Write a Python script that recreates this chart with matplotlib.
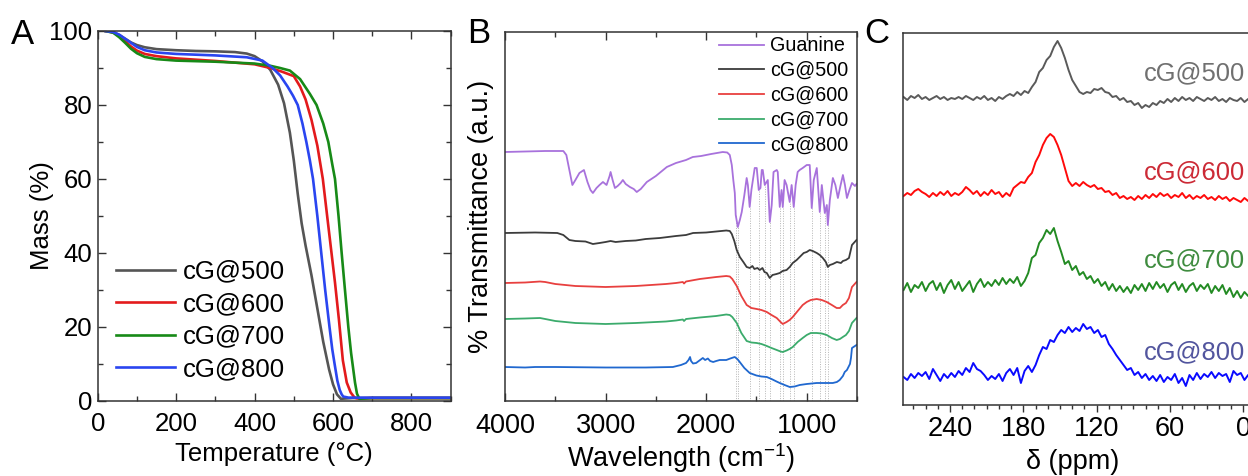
import numpy as np
import matplotlib
matplotlib.use("Agg")
import matplotlib.pyplot as plt
from matplotlib.ticker import MultipleLocator

plt.rcParams['font.family'] = ['Liberation Sans', 'DejaVu Sans']
plt.rcParams['mathtext.fontset'] = 'custom'
plt.rcParams['mathtext.rm'] = 'Liberation Sans'
plt.rcParams['mathtext.default'] = 'regular'

# ---------------- Panel A : TGA ----------------
tga_labels = ["cG@500", "cG@600", "cG@700", "cG@800"]
t500 = [20, 30, 40, 55, 70, 85, 100, 120, 150, 200, 250, 300, 350, 380, 400, 420, 440, 460, 475, 490,
        500, 510, 520, 530, 545, 560, 575, 590, 600, 610, 620, 650, 900]
m500 = [100, 100, 99.7, 98.9, 97.9, 96.9, 96.2, 95.6, 95.1, 94.8, 94.6, 94.5, 94.3, 93.9, 93.2, 91.8,
        89.5, 85.5, 80.5, 72.5, 65, 56, 48, 42, 34, 25, 16, 8.5, 4.5, 1.8, 0.6, 0.8, 0.8]
t600 = [20, 40, 55, 70, 85, 100, 120, 150, 200, 300, 400, 440, 470, 500, 516, 530, 545, 560, 574,
        585, 595, 605, 615, 625, 635, 645, 655, 662, 700, 900]
m600 = [100, 99.6, 98.6, 97.2, 95.8, 94.7, 93.8, 93.2, 92.6, 91.9, 91.0, 90.0, 89.0, 87.8, 85.0,
        81.5, 76.0, 69.0, 60.0, 50.0, 41.0, 32.0, 22.0, 11.0, 5.0, 2.3, 0.9, 0.7, 0.8, 0.8]
t700 = [20, 40, 55, 70, 85, 100, 120, 150, 200, 300, 400, 440, 465, 490, 516, 541, 558, 575, 588,
        598, 605, 614, 622, 630, 639, 646, 651, 656, 661, 667, 700, 900]
m700 = [100, 99.5, 98.3, 96.8, 95.2, 94.0, 93.0, 92.4, 92.0, 91.7, 91.2, 90.6, 90.0, 89.3, 87.0,
        83.0, 80.0, 75.0, 70.0, 64.0, 60.0, 50.0, 40.0, 30.5, 20.0, 13.0, 9.0, 5.0, 2.0, 0.6, 0.8, 0.8]
t800 = [20, 40, 55, 70, 85, 100, 120, 150, 200, 300, 380, 420, 446, 465, 484, 498, 510, 522, 532,
        541, 549, 560, 570, 580, 591, 598, 604, 611, 617, 622, 626, 640, 700, 800, 900]
m800 = [100, 99.7, 99.0, 97.9, 96.8, 95.7, 94.8, 94.2, 93.8, 93.4, 92.9, 92.0, 90.0, 88.0, 85.0,
        82.5, 80.0, 75.0, 70.0, 65.0, 60.0, 50.0, 40.0, 30.0, 20.0, 14.0, 10.0, 5.5, 3.0, 1.8, 1.2,
        0.9, 0.9, 0.9, 0.9]
tga_T = [t500, t600, t700, t800]
tga_M = [m500, m600, m700, m800]
tga_colors = ["#555555", "#e31a1c", "#178a17", "#2a45f0"]

# ---------------- Panel B : FTIR ----------------
ftir_labels = ["Guanine", "cG@500", "cG@600", "cG@700", "cG@800"]
wn_gua = [4000, 3800, 3600, 3420, 3390, 3360, 3330, 3300, 3260, 3215, 3180, 3150, 3126, 3090, 3060,
          3026, 2990, 2960, 2950, 2930, 2907, 2880, 2850, 2828, 2800, 2758, 2720, 2690, 2650, 2590,
          2500, 2391, 2300, 2200, 2133, 2050, 1950, 1835, 1790, 1765, 1745, 1730, 1715, 1706, 1685,
          1665, 1646, 1620, 1597, 1585, 1567, 1550, 1517, 1497, 1477, 1460, 1447, 1437, 1417, 1387,
          1367, 1348, 1330, 1298, 1288, 1268, 1250, 1238, 1220, 1200, 1169, 1150, 1129, 1110, 1090,
          1070, 1040, 1000, 970, 950, 930, 900, 870, 850, 820, 800, 790, 770, 740, 715, 690, 665,
          640, 620, 600, 575, 550, 520, 505]
tr_gua = [0, 0.5, 1, 1, -3, -18, -33, -28, -21, -18, -30, -38, -41, -36, -33,
          -30, -33, -24, -20, -28, -36, -34, -31, -28, -32, -35, -37, -40, -37, -30,
          -24, -15, -11, -8, -5, -4, -2, 0, -0.5, -3, -13, -28, -41, -63, -75,
          -68, -60, -43, -26, -33, -55, -38, -16, -16, -38, -36, -18, -18, -33, -28,
          -70, -53, -20, -18, -20, -55, -38, -55, -28, -33, -50, -33, -55, -33, -20,
          -18, -16, -13, -13, -56, -28, -16, -60, -33, -61, -53, -73, -48, -26, -33, -46, -34,
          -23, -33, -46, -38, -31, -34, -32]
wn_500 = [4000, 3700, 3480, 3420, 3360, 3300, 3200, 3126, 3060, 3000, 2950, 2900, 2800, 2700, 2600,
          2460, 2300, 2200, 2130, 2000, 1900, 1800, 1765, 1745, 1720, 1696, 1665, 1630, 1597, 1566,
          1540, 1520, 1490, 1467, 1440, 1420, 1397, 1368, 1340, 1300, 1268, 1240, 1200, 1169, 1139,
          1100, 1070, 1030, 1000, 970, 940, 900, 870, 840, 810, 790, 770, 740, 700, 660, 640, 610,
          580, 550, 505]
tr_500 = [0, 0.5, 0, -2, -7, -8, -8.5, -11, -10, -9, -8, -9, -8, -7.5, -6,
          -5, -3, -2, 0, 0.5, 1.5, 2.5, 2, -1, -8, -17, -24, -29, -34, -35,
          -33, -36, -35, -37, -35, -39, -40, -45, -42, -41, -40, -38, -37, -34, -30,
          -27, -24, -20, -19, -17, -18, -20, -22, -25, -29, -34, -32, -31, -29, -30, -28, -27,
          -25, -12, -7]
wn_cg = [4000, 3800, 3652, 3600, 3500, 3300, 3000, 2700, 2400, 2300, 2232, 2220, 2200, 2063, 1900,
         1800, 1765, 1740, 1696, 1650, 1597, 1550, 1497, 1450, 1397, 1350, 1298, 1260, 1238, 1200,
         1170, 1139, 1090, 1040, 1000, 960, 901, 850, 801, 750, 702, 670, 641, 610, 580, 550, 505]
tr_600 = [0, 0.5, 1.5, 1, -1, -3, -4, -3, -1, 0, 1, -0.5, 1.5, 4, 6,
          7, 6.5, 4, -3, -13, -22, -25, -26, -27, -29, -32, -35, -39, -41, -39,
          -37, -34, -28, -22, -19, -17, -16, -17, -19, -22, -25, -25, -22, -20, -15, -4, 1]
tr_700 = [0, 0.5, 1, 0, -2, -4, -5, -4, -2.5, -1.5, -0.5, -2, 0, 1.5, 3,
          4.5, 4, 2, -4, -14, -22, -23.5, -24, -25, -27, -29, -31, -32.5, -33, -31.5,
          -30, -28, -23, -19, -16, -14, -14, -14.5, -16, -19, -21, -20, -18, -16, -12, -4, 1]
wn_800 = [4000, 3800, 3700, 3500, 3000, 2600, 2331, 2250, 2200, 2175, 2160, 2150, 2130, 2100, 2060,
          2033, 2010, 1983, 1960, 1930, 1900, 1865, 1800, 1760, 1716, 1690, 1666, 1620, 1567, 1500,
          1450, 1397, 1350, 1300, 1268, 1220, 1169, 1120, 1070, 1000, 901, 820, 741, 700, 672, 640,
          622, 600, 585, 570, 560, 550, 505]
tr_800 = [0, -0.5, 0, 0, -0.5, -0.5, 0, 2, 4, 7, 10, 6, 3.5, 4, 7,
          9, 7, 8.5, 6, 5, 6, 7, 7, 8.5, 10, 8, 5, -1, -6, -8.5,
          -9.5, -10, -12, -14.5, -16, -18, -20, -19.5, -18, -17, -16, -16, -16, -15, -13, -9,
          -5, -3, 0, 3, 9, 19, 22]
ftir_wn = [wn_gua, wn_500, wn_cg, wn_cg, wn_800]
ftir_tr = [tr_gua, tr_500, tr_600, tr_700, tr_800]
ftir_offsets = [249, 168, 118, 82, 34]
ftir_colors = ["#a872dc", "#3c3c3c", "#e8403f", "#3bab6c", "#2068cf"]
guanine_bands = [1706, 1685, 1567, 1477, 1417, 1367, 1268, 1238, 1169, 1129, 950, 870, 820, 790]

# ---------------- Panel C : 13C NMR ----------------
nmr_labels = ["cG@500", "cG@600", "cG@700", "cG@800"]
shift = np.arange(278, -20, -3)
i500 = [1, -2, 2, 0, 3, -1, 1, -2, 0, 2, -1, 1, -2, 0, -1, 1, -1, 2, 0, -2,
        1, -1, 2, -2, 0, -3, 1, -1, 2, 4, 2, 6, 3, 7, 5, 11, 16, 26, 30, 38,
        42, 51, 57, 50, 40, 28, 18, 12, 6, 4, 6, 5, 9, 8, 10, 6, 5, 1, 2, -2,
        0, -4, -3, -7, -5, -10, -7, -9, -5, -7, -3, -5, -1, -4, 0, -3, 1, -2, 0, -3,
        1, -1, -3, 0, -2, 1, -3, -1, -4, 0, -2, -3, 0, -4, -1, -3, 0, -3, -1, -3]
i600 = [-1, 2, 0, 4, 6, 3, 1, -2, 2, -1, 3, 0, 4, -1, 2, 0, 3, 8, 5, 1,
        4, -1, 3, 0, 5, 1, 3, -2, 2, -1, 7, 10, 13, 12, 18, 22, 33, 40, 50, 57,
        61, 58, 50, 40, 27, 14, 9, 12, 9, 13, 10, 8, 10, 6, 7, 3, 4, 0, 2, -3,
        -1, -4, -2, -5, -1, -4, 0, -3, 1, -2, 2, -1, 1, -3, 0, -2, 2, -3, 0, -4,
        -1, -3, 0, -4, -2, -5, -1, -4, -2, -6, -3, -5, -7, -3, -6, -4, -7, -5, -8, -5]
i700 = [-2, 5, -4, 3, 0, 6, -3, 4, 7, -2, 5, -5, 3, 8, -1, 6, -3, 2, 7, -4,
        4, 9, 1, 6, 2, 8, 3, 10, 4, 9, 5, 11, 2, 7, 15, 30, 33, 45, 50, 58,
        54, 60, 47, 36, 24, 27, 18, 22, 13, 16, 9, 12, 5, 9, 2, 6, -2, 4, -3, 2,
        -4, 1, -5, 3, -2, 4, -3, 5, -1, 6, 0, 4, -4, 3, 6, -2, 4, -4, 2, 5,
        -3, 3, -1, 4, -5, 2, -3, 3, -6, 0, -9, -3, -10, -4, -8, -2, -7, 0, -5, -2]
i800 = [0, -3, 3, -1, 4, 1, 5, -2, 8, 2, -4, 3, -1, 4, 0, 6, 2, 9, 5, 14,
        8, 6, 2, -3, 1, -2, 3, -4, 4, 8, 2, 9, -6, 6, 11, 5, 12, 22, 30, 28,
        37, 35, 42, 47, 44, 50, 45, 49, 46, 53, 48, 50, 44, 47, 40, 42, 33, 28, 22, 17,
        12, 7, 9, 2, 5, -1, 3, -3, 1, -4, 2, -5, 0, -3, 3, -6, -1, -9, 2, -3,
        4, -2, 3, 0, 5, -1, 4, 1, 3, -5, 6, 2, 4, -3, 2, 0, 3, -2, 1, -1]
nmr_I = [i500, i600, i700, i800]
nmr_offsets = [307, 210, 117, 28]
nmr_colors = ["#5a5a5a", "#ff0a0a", "#238b23", "#0a0aff"]
nmr_text_colors = ["#707070", "#cc2a36", "#3f8c3f", "#52559e"]

# ---------------- Figure ----------------
W, H = 1248, 476
fig = plt.figure(figsize=(W / 100, H / 100), dpi=100)
spine_c = "#333333"


def px_axes(left, top, right, bottom):
    return [left / W, (H - bottom) / H, (right - left) / W, (bottom - top) / H]


# Panel A
axA = fig.add_axes(px_axes(97.7, 31, 450.7, 401))
for T, M, c, lab in zip(tga_T, tga_M, tga_colors, tga_labels):
    axA.plot(T, M, color=c, lw=1.9, label=lab)
axA.set_xlim(0, 900)
axA.set_ylim(0, 100)
axA.xaxis.set_major_locator(MultipleLocator(200))
axA.xaxis.set_minor_locator(MultipleLocator(100))
axA.yaxis.set_major_locator(MultipleLocator(20))
axA.yaxis.set_minor_locator(MultipleLocator(10))
axA.tick_params(which='both', direction='in', top=True, right=True, width=1.0, colors=spine_c,
                labelcolor='black', labelsize=18.5)
axA.tick_params(axis='x', which='both', pad=8)
axA.tick_params(axis='y', which='both', pad=4)
axA.tick_params(which='major', length=6)
axA.tick_params(which='minor', length=3.5)
axA.set_xlabel("Temperature (°C)", fontsize=18.5, labelpad=4.5)
axA.set_ylabel("Mass (%)", fontsize=18.5)
axA.yaxis.set_label_coords(-0.124, 0.5)
leg = axA.legend(loc='lower left', bbox_to_anchor=(0.052, 0.054), frameon=False, fontsize=18.5,
                 handlelength=2.3, handletextpad=0.3, labelspacing=0.33, borderpad=0,
                 borderaxespad=0)

# Panel B
axB = fig.add_axes(px_axes(505, 32, 857, 401))
for wn, tr, off, c, lab in zip(ftir_wn, ftir_tr, ftir_offsets, ftir_colors, ftir_labels):
    axB.plot(wn, np.array(tr) + off, color=c, lw=1.3, label=lab)
gua_y = np.interp(guanine_bands, wn_gua[::-1], (np.array(tr_gua) + ftir_offsets[0])[::-1])
axB.vlines(guanine_bands, 0, gua_y, colors="#b5b5b5", linestyles=(0, (1, 1.5)), lw=0.7, zorder=0)
axB.set_xlim(4000, 500)
axB.set_ylim(0, 369)
axB.xaxis.set_major_locator(MultipleLocator(1000))
axB.xaxis.set_minor_locator(MultipleLocator(500))
axB.tick_params(axis='x', which='both', direction='in', top=True, width=1.0, colors=spine_c,
                labelcolor='black', labelsize=19.5, pad=8.5)
axB.tick_params(axis='x', which='major', length=6)
axB.tick_params(axis='x', which='minor', length=3.5)
axB.tick_params(axis='y', which='both', left=False, labelleft=False)
axB.set_xlabel("Wavelength (cm$^{-1}$)", fontsize=19.5, labelpad=1.5)
axB.set_ylabel("% Transmittance (a.u.)", fontsize=19.5, labelpad=8)
axB.legend(loc='upper right', bbox_to_anchor=(0.975, 0.988), frameon=False, fontsize=14.2,
           handlelength=2.3, handletextpad=0.3, labelspacing=0.29, borderpad=0, borderaxespad=0)

# Panel C
cx0, cx1 = 278.5, -20
c_width_px = (cx0 - cx1) * 73.3 / 60
axC = fig.add_axes(px_axes(903, 33, 903 + c_width_px, 405))
for I, off, c in zip(nmr_I, nmr_offsets, nmr_colors):
    axC.plot(shift, np.array(I) + off, color=c, lw=1.4)
text_y = [0.892, 0.626, 0.390, 0.142]
for lab, ty, tc in zip(nmr_labels, text_y, nmr_text_colors):
    axC.text((1144 - 903) / c_width_px, ty, lab, transform=axC.transAxes, color=tc, fontsize=18.4,
             va='center', ha='left')
axC.set_xlim(cx0, cx1)
axC.set_ylim(0, 372)
axC.xaxis.set_major_locator(MultipleLocator(60))
axC.xaxis.set_minor_locator(MultipleLocator(10))
axC.tick_params(axis='x', which='both', direction='out', width=1.0, colors=spine_c,
                labelcolor='black', labelsize=19.5, pad=3)
axC.tick_params(axis='x', which='major', length=5)
axC.tick_params(axis='x', which='minor', length=3)
axC.tick_params(axis='y', which='both', left=False, labelleft=False)
axC.set_xlabel("δ (ppm)", fontsize=19.5)
axC.xaxis.set_label_coords((1073 - 903) / c_width_px, -0.118)

for ax in (axA, axB, axC):
    for s in ax.spines.values():
        s.set_color(spine_c)
        s.set_linewidth(1.1)

fig.text(11 / W, (H - 44) / H, "A", fontsize=25, va='baseline', ha='left')
fig.text(467 / W, (H - 43) / H, "B", fontsize=25, va='baseline', ha='left')
fig.text(864 / W, (H - 43) / H, "C", fontsize=25, va='baseline', ha='left')

fig.savefig("out.png", dpi=100)
